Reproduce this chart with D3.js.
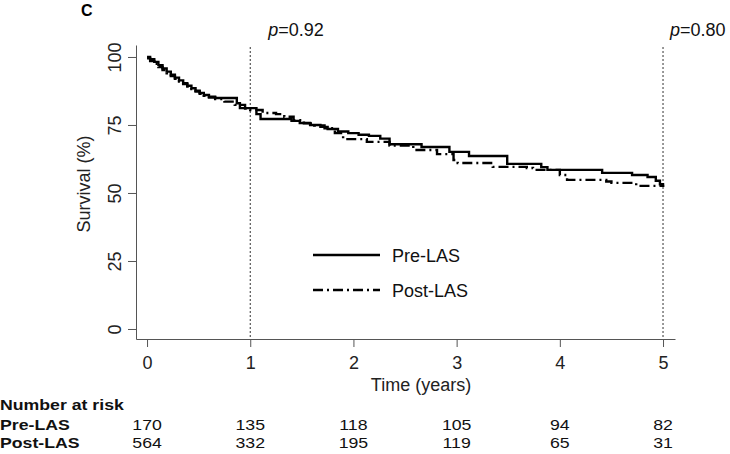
<!DOCTYPE html>
<html>
<head>
<meta charset="utf-8">
<script src="https://cdn.jsdelivr.net/npm/d3@7"></script>
<style>
  html, body { margin: 0; padding: 0; background: #fff; }
  svg { display: block; font-family: "Liberation Sans", Arial, sans-serif; }
</style>
</head>
<body>
<svg id="chart" width="730" height="454"></svg>
<script>
// ---- Data ----
const preTimes  = [0, 0.03, 0.07, 0.11, 0.15, 0.19, 0.23, 0.27, 0.31, 0.35, 0.39, 0.43, 0.47, 0.51, 0.55, 0.60, 0.66, 0.87, 0.90, 1.06, 1.10, 1.40, 1.48, 1.58, 1.68, 1.75, 1.85, 1.95, 2.05, 2.15, 2.26, 2.35, 2.66, 2.93, 3.12, 3.49, 3.82, 3.88, 4.41, 4.70, 4.85, 4.93, 4.97, 5.0];
const preSurv   = [100, 99.2, 98.2, 97.0, 95.8, 94.6, 93.5, 92.4, 91.4, 90.4, 89.4, 88.5, 87.6, 86.8, 86.0, 85.4, 84.9, 83.0, 81.2, 79.0, 77.2, 76.5, 75.7, 75.0, 74.3, 73.5, 72.6, 72.0, 71.4, 71.0, 70.0, 67.9, 66.9, 65.1, 63.6, 60.7, 59.5, 58.5, 57.4, 56.6, 55.9, 54.5, 53.2, 52.2];
const postTimes = [0, 0.03, 0.07, 0.11, 0.15, 0.19, 0.23, 0.27, 0.31, 0.35, 0.39, 0.43, 0.47, 0.51, 0.55, 0.60, 0.66, 0.75, 0.85, 0.95, 1.00, 1.12, 1.25, 1.33, 1.42, 1.52, 1.62, 1.72, 1.82, 1.90, 2.13, 2.35, 2.58, 2.81, 2.97, 3.01, 3.35, 3.68, 3.74, 4.00, 4.07, 4.45, 4.50, 4.74, 5.0];
const postSurv  = [99.5, 98.5, 97.5, 96.3, 95.2, 94.0, 93.0, 92.0, 91.0, 90.0, 89.1, 88.2, 87.3, 86.5, 85.7, 85.1, 84.5, 83.6, 82.4, 81.0, 80.5, 79.4, 79.0, 78.0, 76.8, 75.6, 74.8, 73.8, 72.0, 69.8, 68.8, 67.4, 65.8, 64.3, 62.1, 61.0, 59.6, 59.2, 58.5, 56.6, 54.8, 54.2, 53.7, 52.6, 52.2];
const xTicks = [0, 1, 2, 3, 4, 5];
const yTicks = [0, 25, 50, 75, 100];
const groups = ["Pre-LAS", "Post-LAS"];
const atRiskPre  = [170, 135, 118, 105, 94, 82];
const atRiskPost = [564, 332, 195, 119, 65, 31];
const pLines = [1, 5];
const pLabels = ["0.92", "0.80"];

// ---- Layout ----
const svg = d3.select("#chart");
const x = d3.scaleLinear().domain([-0.107, 5.116]).range([136, 675]);
const y = d3.scaleLinear().domain([-3.68, 104.4]).range([339, 45]);
const axisColor = "#555";
const fs = 18;

// panel letter
svg.append("text").attr("x", 81).attr("y", 16)
  .attr("font-size", 16).attr("font-weight", "bold").text("C");

// y axis
const gy = svg.append("g").attr("transform", "translate(136,0)")
  .call(d3.axisLeft(y).tickValues(yTicks).tickSize(8).tickSizeOuter(0));
gy.select(".domain").attr("stroke", axisColor);
gy.selectAll(".tick line").attr("stroke", axisColor);
gy.selectAll(".tick text")
  .attr("transform", "rotate(-90)")
  .attr("x", 0).attr("y", -15).attr("dy", 0)
  .style("text-anchor", "middle")
  .attr("font-size", fs).attr("font-family", null).attr("fill", "#222");

// x axis
const gx = svg.append("g").attr("transform", "translate(0,339)")
  .call(d3.axisBottom(x).tickValues(xTicks).tickFormat(d3.format("d"))
    .tickSize(8).tickSizeOuter(0).tickPadding(9));
gx.select(".domain").attr("stroke", axisColor);
gx.selectAll(".tick line").attr("stroke", axisColor);
gx.selectAll(".tick text").attr("font-size", fs).attr("font-family", null).attr("fill", "#222");

// titles
svg.append("text").attr("transform", "translate(90,184) rotate(-90)")
  .attr("text-anchor", "middle").attr("font-size", fs).attr("fill", "#222").text("Survival (%)");
svg.append("text").attr("x", 421).attr("y", 391)
  .attr("text-anchor", "middle").attr("font-size", fs).attr("fill", "#222").text("Time (years)");

// p-value reference lines
const pOffsets = [18, 7];
pLines.forEach((t, i) => {
  svg.append("line").attr("x1", x(t)).attr("x2", x(t)).attr("y1", 47).attr("y2", 339)
    .attr("stroke", "#333").attr("stroke-width", 1).attr("stroke-dasharray", "2,2");
  const tx = svg.append("text").attr("x", x(t) + pOffsets[i]).attr("y", 36)
    .attr("font-size", fs).attr("fill", "#111");
  tx.append("tspan").attr("font-style", "italic").text("p");
  tx.append("tspan").text("=" + pLabels[i]);
});

// curves
const line = d3.line().x(d => x(d[0])).y(d => y(d[1])).curve(d3.curveStepAfter);
const preData = preTimes.map((t, i) => [t, preSurv[i]]);
const postData = postTimes.map((t, i) => [t, postSurv[i]]);
svg.append("path").datum(postData).attr("d", line)
  .attr("fill", "none").attr("stroke", "#000").attr("stroke-width", 2.4)
  .attr("stroke-dasharray", "10,4,2,4");
svg.append("path").datum(preData).attr("d", line)
  .attr("fill", "none").attr("stroke", "#000").attr("stroke-width", 2.4);

// legend
const dashes = [null, "10,4,2,4"];
const legY = [255, 290];
groups.forEach((g, i) => {
  svg.append("line").attr("x1", 313).attr("x2", 380).attr("y1", legY[i]).attr("y2", legY[i])
    .attr("stroke", "#000").attr("stroke-width", 2.4).attr("stroke-dasharray", dashes[i]);
  svg.append("text").attr("x", 392).attr("y", legY[i] + 6.5)
    .attr("font-size", fs).attr("fill", "#111").text(g);
});

// number at risk table (slightly condensed-height type, widened horizontally)
const tfs = 15, sx = 1.18;
function tableText(px, py, txt, anchor, bold) {
  svg.append("text")
    .attr("transform", `translate(${px},${py}) scale(${sx},1)`)
    .attr("text-anchor", anchor).attr("font-size", tfs)
    .attr("font-weight", bold ? "bold" : null).attr("fill", "#111").text(txt);
}
tableText(0, 410, "Number at risk", "start", true);
const rows = [atRiskPre, atRiskPost];
const rowY = [430, 448];
rows.forEach((vals, r) => {
  tableText(0, rowY[r], groups[r], "start", true);
  vals.forEach((v, i) => tableText(x(xTicks[i]), rowY[r], v, "middle", false));
});
</script>
</body>
</html>
